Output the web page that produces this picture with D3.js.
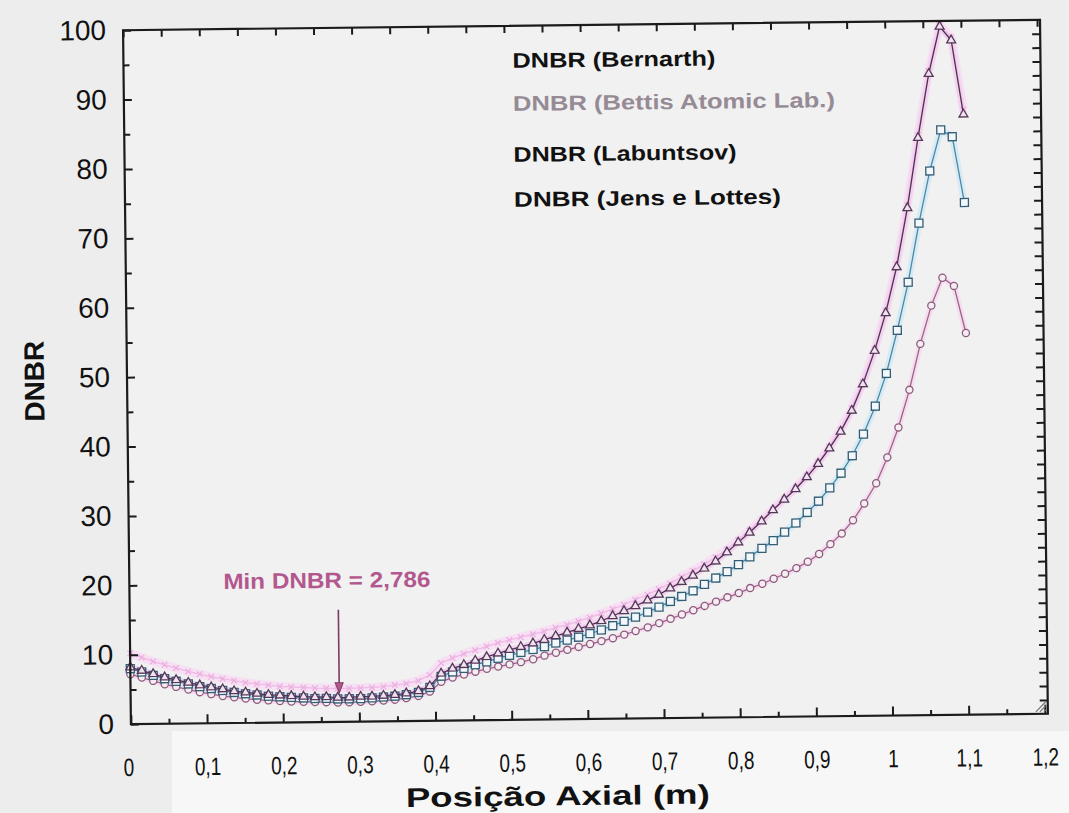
<!DOCTYPE html>
<html>
<head>
<meta charset="utf-8">
<title>DNBR x Posição Axial</title>
<script src="https://cdnjs.cloudflare.com/ajax/libs/d3/7.8.5/d3.min.js"></script>
<style>
    body { margin: 0; background: #ededed; }
    #chart-area { width: 1069px; height: 813px; }
    text { font-family: "Liberation Sans", Arial, sans-serif; }
</style>
</head>
<body>
<div id="chart-area"></div>
<script>

// axial node positions (m)
const axialPos = [0, 0.015, 0.030, 0.045, 0.060, 0.076, 0.091, 0.106, 0.121, 0.136,
    0.151, 0.166, 0.181, 0.196, 0.211, 0.227, 0.242, 0.257, 0.272, 0.287,
    0.302, 0.317, 0.332, 0.347, 0.362, 0.378, 0.393, 0.408, 0.423, 0.438,
    0.453, 0.468, 0.483, 0.498, 0.513, 0.529, 0.544, 0.559, 0.574, 0.589,
    0.604, 0.619, 0.634, 0.649, 0.664, 0.680, 0.695, 0.710, 0.725, 0.740,
    0.755, 0.770, 0.785, 0.800, 0.815, 0.831, 0.846, 0.861, 0.876, 0.891,
    0.906, 0.921, 0.936, 0.951, 0.966, 0.982, 0.997, 1.012, 1.027, 1.042,
    1.057, 1.072, 1.087, 1.102];

// DNBR per correlation
const dnbrBernarth = [8.2, 7.7, 7.2, 6.7, 6.3, 5.9, 5.5, 5.2, 4.9, 4.6,
    4.4, 4.2, 4.0, 3.9, 3.8, 3.7, 3.6, 3.6, 3.5, 3.5,
    3.6, 3.6, 3.7, 3.8, 4.0, 4.3, 5.0, 6.8, 7.5, 8.0,
    8.6, 9.1, 9.6, 10.1, 10.5, 11.0, 11.5, 12.0, 12.5, 13.0,
    13.5, 14.1, 14.8, 15.5, 16.2, 17.0, 17.8, 18.7, 19.6, 20.5,
    21.5, 22.5, 23.8, 25.2, 26.6, 28.2, 29.8, 31.3, 32.8, 34.5,
    36.4, 38.6, 41.0, 44.0, 47.8, 52.6, 58.0, 64.6, 73.1, 83.2,
    92.4, 99.2, 97.2, 86.5];

const dnbrBettis = [10.2, 9.6, 9.0, 8.5, 8.0, 7.5, 7.1, 6.7, 6.4, 6.1,
    5.8, 5.6, 5.4, 5.2, 5.1, 5.0, 4.9, 4.85, 4.8, 4.8,
    4.85, 4.9, 5.0, 5.2, 5.4, 5.8, 6.6, 8.3, 9.0, 9.6,
    10.1, 10.6, 11.1, 11.5, 11.9, 12.3, 12.7, 13.2, 13.6, 14.1,
    14.6, 15.2, 15.8, 16.4, 17.1, 17.8, 18.6, 19.4, 20.3, 21.2,
    22.1, 23.1, 24.2, 25.5, 26.9, 28.4, 29.9, 31.4, 33.0, 34.7,
    36.6, 38.8, 41.3, 44.3, 48.1, 52.8, 58.3, 65.0, 73.5, 83.6,
    92.8, 99.5, 97.6, 87.2];

const dnbrLabuntsov = [8.0, 7.5, 7.0, 6.5, 6.1, 5.7, 5.3, 5.0, 4.7, 4.4,
    4.2, 4.0, 3.8, 3.7, 3.6, 3.5, 3.4, 3.4, 3.3, 3.3,
    3.3, 3.4, 3.5, 3.6, 3.8, 4.1, 4.8, 6.4, 7.0, 7.5,
    8.0, 8.4, 8.9, 9.3, 9.7, 10.1, 10.5, 11.0, 11.4, 11.8,
    12.3, 12.8, 13.4, 14.0, 14.6, 15.3, 16.0, 16.8, 17.5, 18.3,
    19.2, 20.1, 21.0, 22.0, 23.1, 24.3, 25.4, 26.6, 27.9, 29.4,
    31.0, 32.9, 35.0, 37.5, 40.6, 44.6, 49.3, 55.5, 62.4, 70.9,
    78.4, 84.3, 83.3, 73.8];

const dnbrJens = [7.2, 6.7, 6.2, 5.7, 5.3, 4.9, 4.5, 4.2, 3.9, 3.7,
    3.5, 3.3, 3.2, 3.1, 3.0, 2.95, 2.9, 2.85, 2.79, 2.8,
    2.85, 2.9, 3.0, 3.1, 3.3, 3.6, 4.2, 5.6, 6.2, 6.6,
    7.0, 7.4, 7.7, 8.0, 8.3, 8.7, 9.2, 9.6, 10.0, 10.4,
    10.8, 11.2, 11.6, 12.1, 12.6, 13.1, 13.7, 14.3, 14.9, 15.5,
    16.1, 16.7, 17.3, 17.9, 18.6, 19.2, 19.9, 20.6, 21.4, 22.3,
    23.4, 24.8, 26.3, 28.2, 30.6, 33.5, 37.2, 41.5, 46.9, 53.5,
    59.0, 63.0, 61.8, 55.0];

// axes
const xTicks = [0, 0.1, 0.2, 0.3, 0.4, 0.5, 0.6, 0.7, 0.8, 0.9, 1, 1.1, 1.2];
const xTickLabels = ["0", "0,1", "0,2", "0,3", "0,4", "0,5", "0,6", "0,7", "0,8", "0,9", "1", "1,1", "1,2"];
const xMinorTicks = [0.05, 0.15, 0.25, 0.35, 0.45, 0.55, 0.65, 0.75, 0.85, 0.95, 1.05, 1.15];
const yTicks = [0, 10, 20, 30, 40, 50, 60, 70, 80, 90, 100];
const yMinorTicks = [5, 15, 25, 35, 45, 55, 65, 75, 85, 95];

// legend texts + annotation
const legendLabels = ["DNBR (Bernarth)", "DNBR (Bettis Atomic Lab.)", "DNBR (Labuntsov)", "DNBR (Jens e Lottes)"];
const minDnbrLabel = "Min DNBR = 2,786";
const minDnbrPos = 0.274;


class DnbrChart {

    constructor(parentElement) {
        this.parentElement = parentElement;
        this.initVis();
    }

    initVis() {
        let vis = this;

        vis.width = 1069;
        vis.height = 813;
        vis.frame = {left: 127, right: 1044, top: 25, bottom: 719};

        vis.svg = d3.select("#" + vis.parentElement).append("svg")
            .attr("width", vis.width)
            .attr("height", vis.height);

        vis.svg.append("rect")
            .attr("width", vis.width).attr("height", vis.height)
            .attr("fill", "#ededed");

        // whiter strip under the axis (scan)
        vis.svg.append("rect")
            .attr("x", 172).attr("y", 731)
            .attr("width", vis.width - 172).attr("height", vis.height - 731)
            .attr("fill", "#f7f7f7");

        // scanned picture is slightly tilted
        vis.g = vis.svg.append("g")
            .attr("transform", "rotate(-0.65, 585, 375)");

        vis.x = d3.scaleLinear().domain([0, 1.2]).range([vis.frame.left, 1041]);
        vis.y = d3.scaleLinear().domain([0, 100]).range([vis.frame.bottom, vis.frame.top]);

        vis.g.append("rect")
            .attr("x", vis.frame.left).attr("y", vis.frame.top)
            .attr("width", vis.frame.right - vis.frame.left)
            .attr("height", vis.frame.bottom - vis.frame.top)
            .attr("fill", "#f1f1f1");

        vis.series = [
            {values: dnbrBettis, line: "#efb9e6", halo: "#f7e0f3", haloWidth: 9, symbol: d3.symbolTimes, size: 22, stroke: "#ebb0e1", fill: "none"},
            {values: dnbrJens, line: "#9a6487", halo: "#f5dcef", haloWidth: 6, symbol: d3.symbolCircle, size: 40, stroke: "#8e5a7c", fill: "#f4eef3"},
            {values: dnbrLabuntsov, line: "#4a88a6", halo: "#d8ebf4", haloWidth: 7, symbol: d3.symbolSquare, size: 64, stroke: "#335d75", fill: "#f3f7f9"},
            {values: dnbrBernarth, line: "#4c3252", halo: "#f3d2ee", haloWidth: 6, symbol: d3.symbolTriangle, size: 34, stroke: "#55365a", fill: "#efe4ee"}
        ];

        vis.wrangleData();
    }

    wrangleData() {
        let vis = this;

        vis.displayData = vis.series.map(s => ({
            style: s,
            points: axialPos.map((p, i) => ({pos: p, dnbr: s.values[i]}))
        }));

        vis.updateVis();
    }

    updateVis() {
        let vis = this;

        let line = d3.line()
            .x(d => vis.x(d.pos))
            .y(d => vis.y(d.dnbr));

        // halos first, then lines and markers
        vis.g.selectAll(".halo")
            .data(vis.displayData)
            .enter().append("path")
            .attr("class", "halo")
            .attr("d", d => line(d.points))
            .attr("fill", "none")
            .attr("stroke", d => d.style.halo)
            .attr("stroke-width", d => d.style.haloWidth)
            .attr("stroke-linejoin", "round");

        let groups = vis.g.selectAll(".series")
            .data(vis.displayData)
            .enter().append("g")
            .attr("class", "series");

        groups.append("path")
            .attr("d", d => line(d.points))
            .attr("fill", "none")
            .attr("stroke", d => d.style.line)
            .attr("stroke-width", 1.3);

        groups.each(function (d) {
            d3.select(this).selectAll(".mark")
                .data(d.points)
                .enter().append("path")
                .attr("class", "mark")
                .attr("transform", p => `translate(${vis.x(p.pos)},${vis.y(p.dnbr)})`)
                .attr("d", d3.symbol().type(d.style.symbol).size(d.style.size))
                .attr("fill", d.style.fill)
                .attr("stroke", d.style.stroke)
                .attr("stroke-width", 1.3);
        });

        vis.drawAxes();
        vis.drawTexts();
    }

    drawAxes() {
        let vis = this;

        // bottom
        vis.g.append("g")
            .attr("class", "axis axis--x")
            .attr("transform", `translate(0,${vis.frame.bottom})`)
            .call(d3.axisBottom(vis.x).tickValues(xTicks).tickSizeInner(-9).tickSizeOuter(0)
                .tickPadding(34).tickFormat((d, i) => xTickLabels[i]));
        vis.g.append("g")
            .attr("transform", `translate(0,${vis.frame.bottom})`)
            .call(d3.axisBottom(vis.x).tickValues(xMinorTicks).tickSize(-5).tickFormat(""));

        // top
        vis.g.append("g")
            .attr("transform", `translate(0,${vis.frame.top})`)
            .call(d3.axisTop(vis.x).tickValues(xTicks.concat(xMinorTicks)).tickSize(-7).tickFormat(""));

        // left
        vis.g.append("g")
            .attr("class", "axis axis--y")
            .attr("transform", `translate(${vis.frame.left},0)`)
            .call(d3.axisLeft(vis.y).tickValues(yTicks).tickSizeInner(-8).tickSizeOuter(0)
                .tickPadding(17));
        vis.g.append("g")
            .attr("transform", `translate(${vis.frame.left},0)`)
            .call(d3.axisLeft(vis.y).tickValues(yMinorTicks).tickSize(-6).tickFormat(""));

        // right, dense ticks
        vis.g.append("g")
            .attr("transform", `translate(${vis.frame.right},0)`)
            .call(d3.axisRight(vis.y).tickValues(d3.range(2, 100, 2)).tickSize(-8).tickFormat(""));

        vis.g.selectAll(".tick line").attr("stroke", "#1b1b1b").attr("stroke-width", 2);
        vis.g.selectAll(".domain").remove();

        // narrow tall digits on the x axis
        vis.g.selectAll(".axis--x text")
            .attr("font-size", 25)
            .attr("fill", "#111")
            .each(function () {
                let len = this.getComputedTextLength();
                d3.select(this).attr("textLength", len * 0.76).attr("lengthAdjust", "spacingAndGlyphs");
            });
        vis.g.selectAll(".axis--x .tick").filter(d => d === 0).select("text").attr("x", -3);

        vis.g.selectAll(".axis--y text")
            .attr("font-size", 28)
            .attr("fill", "#111");

        // frame
        vis.g.append("rect")
            .attr("x", vis.frame.left).attr("y", vis.frame.top)
            .attr("width", vis.frame.right - vis.frame.left)
            .attr("height", vis.frame.bottom - vis.frame.top)
            .attr("fill", "none")
            .attr("stroke", "#1b1b1b")
            .attr("stroke-width", 2.2);

        // resize grip in the corner
        vis.g.selectAll(".grip")
            .data([4, 8, 12])
            .enter().append("line")
            .attr("class", "grip")
            .attr("x1", d => vis.frame.right - d).attr("y1", vis.frame.bottom - 2)
            .attr("x2", vis.frame.right - 2).attr("y2", d => vis.frame.bottom - d)
            .attr("stroke", "#777").attr("stroke-width", 1.2);
    }

    drawTexts() {
        let vis = this;

        let fit = (sel, w) => sel.attr("textLength", w).attr("lengthAdjust", "spacingAndGlyphs");

        // axis titles
        fit(vis.g.append("text")
            .attr("x", 553).attr("y", 805)
            .attr("text-anchor", "middle")
            .attr("font-size", 27).attr("font-weight", "bold")
            .attr("fill", "#111")
            .text("Posição Axial (m)"), 304);

        vis.g.append("text")
            .attr("transform", "translate(44,375) rotate(-90)")
            .attr("text-anchor", "middle")
            .attr("font-size", 28).attr("font-weight", "bold")
            .attr("fill", "#111")
            .text("DNBR");

        // legend (text only)
        let legendY = [67, 110, 161, 206];
        let legendW = [203, 322, 223, 267];
        let legendColor = ["#111", "#968b95", "#111", "#111"];
        legendLabels.forEach((t, i) => {
            fit(vis.g.append("text")
                .attr("x", 516).attr("y", legendY[i])
                .attr("font-size", 21).attr("font-weight", "bold")
                .attr("fill", legendColor[i])
                .text(t), legendW[i]);
        });

        // min DNBR annotation
        fit(vis.g.append("text")
            .attr("x", 221).attr("y", 585)
            .attr("font-size", 22).attr("font-weight", "bold")
            .attr("fill", "#b3588f")
            .text(minDnbrLabel), 207);

        let ax = vis.x(minDnbrPos);
        vis.g.append("line")
            .attr("x1", ax).attr("x2", ax)
            .attr("y1", 607).attr("y2", 682)
            .attr("stroke", "#7c3c62").attr("stroke-width", 1.6);
        vis.g.append("path")
            .attr("d", `M${ax - 4},680 L${ax + 4},680 L${ax},690 Z`)
            .attr("fill", "#b3588f").attr("stroke", "#7c3c62");
    }
}

let myChart = new DnbrChart("chart-area");

</script>
</body>
</html>
